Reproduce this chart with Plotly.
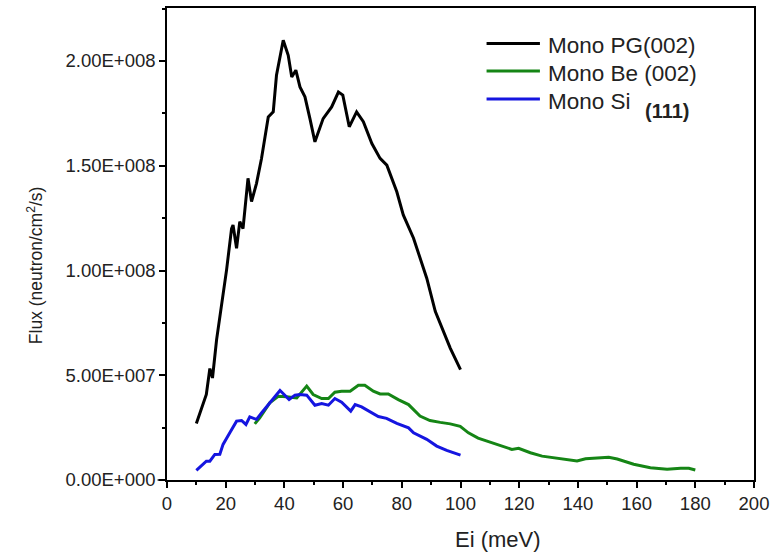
import plotly.graph_objects as go

# ---- data ----
pg_x = [10, 13.4, 14.6, 15.5, 16.9, 18.6, 19.7, 20.3, 22, 22.5, 23.7, 24.8, 25.9, 27.6, 28.8,
        30.5, 32.2, 34.5, 36.2, 37.3, 39.6, 41.3, 42.5, 43.9, 45.3, 47, 48.7, 50.4, 53.2,
        56.1, 58.4, 59.9, 62.1, 64.6, 66.9, 69.8, 72.6, 74.9, 78.3, 80.5, 84, 88.5, 91.4,
        96.5, 100]
pg_y = [2.70, 4.08, 5.32, 4.87, 6.7, 8.37, 9.48, 10.03, 12.0, 12.17, 11.06, 12.33, 12.0,
        14.4, 13.29, 14.16, 15.35, 17.33, 17.57, 19.32, 20.99, 20.27, 19.24, 19.56, 18.76,
        18.29, 17.25, 16.14, 17.25, 17.81, 18.52, 18.37, 16.86, 17.57, 17.1, 16.06, 15.35,
        15.03, 13.76, 12.65, 11.54, 9.63, 8.05, 6.3, 5.27]

be_x = [29.9, 31.6, 35, 37.9, 40.7, 44.2, 47.6, 49.8, 52.7, 55, 57.2, 59.5, 62.4, 65.2,
        67.4, 70.3, 72.6, 75.4, 78.8, 82.3, 86.2, 89.6, 93.1, 96.5, 99.9, 102.7, 106, 109,
        113.5, 117.5, 119.8, 123.8, 127.8, 132.9, 139.7, 142.6, 146.5, 150.5, 153.4, 159,
        164.7, 170.4, 175, 177.8, 180]
be_y = [2.68, 2.97, 3.68, 4.0, 3.97, 3.92, 4.48, 4.08, 3.89, 3.89, 4.19, 4.24, 4.24, 4.52,
        4.52, 4.24, 4.11, 4.11, 3.84, 3.6, 3.05, 2.84, 2.75, 2.68, 2.56, 2.25, 2.0, 1.86,
        1.62, 1.46, 1.51, 1.3, 1.14, 1.03, 0.905, 1.01, 1.03, 1.08, 1.0, 0.75, 0.59, 0.51,
        0.56, 0.56, 0.48]

si_x = [10, 11.7, 13.4, 14.6, 16.3, 18, 19.1, 21.4, 23.7, 25.4, 26.9, 28.2, 30.5, 32.2, 35,
        36.7, 38.5, 39.9, 41.6, 43.6, 45.3, 47.6, 50.4, 52.7, 55, 57.2, 59.5, 62.6, 64.1,
        66.3, 69.2, 72, 74.8, 78.3, 82.3, 84, 88.5, 91.9, 95.3, 100]
si_y = [0.46, 0.67, 0.90, 0.90, 1.22, 1.23, 1.70, 2.25, 2.81, 2.84, 2.65, 3.01, 2.89, 3.20,
        3.68, 3.92, 4.27, 4.08, 3.84, 4.05, 4.08, 4.05, 3.57, 3.65, 3.57, 3.89, 3.71, 3.29,
        3.60, 3.49, 3.25, 3.03, 2.94, 2.70, 2.49, 2.25, 1.94, 1.62, 1.41, 1.19]

scale = 1e7  # series values above are in units of 1e7 neutron/cm^2/s

series_names = ["Mono PG(002)", "Mono Be (002)", "Mono Si"]
series_colors = ["#000000", "#158515", "#1515e0"]

y_tickvals = [0, 5e7, 1e8, 1.5e8, 2e8]
y_ticktext = ["0.00E+000", "5.00E+007", "1.00E+008", "1.50E+008", "2.00E+008"]

FONT = "Arial"
TXT = "#222222"

fig = go.Figure()
for xs, ys, name, col in [(pg_x, pg_y, series_names[0], series_colors[0]),
                          (be_x, be_y, series_names[1], series_colors[1]),
                          (si_x, si_y, series_names[2], series_colors[2])]:
    fig.add_trace(go.Scatter(x=xs, y=[v * scale for v in ys], mode="lines", name=name,
                             line=dict(color=col, width=3), showlegend=False))

fig.update_layout(
    width=776, height=555,
    margin=dict(l=167, r=22, t=6, b=75),
    paper_bgcolor="white", plot_bgcolor="white",
    font=dict(family=FONT, color=TXT, size=18),
    xaxis=dict(
        range=[0, 200], tickmode="linear", tick0=0, dtick=20,
        ticks="outside", ticklen=6, tickwidth=1.5, tickcolor="black",
        showline=True, linecolor="black", linewidth=1.5, mirror=True,
        showgrid=False, zeroline=False,
        tickfont=dict(size=18.5, family=FONT, color=TXT),
        minor=dict(tickmode="linear", tick0=0, dtick=10, ticks="outside", ticklen=3,
                   tickwidth=1.5, tickcolor="black", showgrid=False),
    ),
    yaxis=dict(
        range=[0, 2.253e8], tickmode="array", tickvals=y_tickvals, ticktext=y_ticktext,
        ticks="outside", ticklen=6, tickwidth=1.5, tickcolor="black",
        showline=True, linecolor="black", linewidth=1.5, mirror=True,
        showgrid=False, zeroline=False,
        tickfont=dict(size=18.5, family=FONT, color=TXT),
        minor=dict(tickmode="linear", tick0=0, dtick=2.5e7, ticks="outside", ticklen=3,
                   tickwidth=1.5, tickcolor="black", showgrid=False),
    ),
)

# small extension of the x-axis line to the left of the y-axis (as in the reference)
fig.add_shape(type="line", xref="paper", yref="paper", x0=-0.016, x1=0, y0=0, y1=0,
              line=dict(color="black", width=1.5))

# axis titles
fig.add_annotation(text="Ei (meV)", xref="paper", yref="paper", x=0.5635, y=-0.125,
                   xanchor="center", yanchor="middle", showarrow=False,
                   font=dict(size=22, family=FONT, color=TXT))
fig.add_annotation(text="Flux (neutron/cm<sup>2</sup>/s)", xref="paper", yref="paper",
                   x=-0.225, y=0.455, textangle=-90, xanchor="center", yanchor="middle",
                   showarrow=False, font=dict(size=17.5, family=FONT, color=TXT))

# legend (drawn manually to match the long sample lines)
leg_line_y = [0.9247, 0.8665, 0.8074]
leg_text_y = [0.9198, 0.8618, 0.8027]
for i in range(3):
    fig.add_shape(type="line", xref="paper", yref="paper", x0=0.5444, x1=0.6353,
                  y0=leg_line_y[i], y1=leg_line_y[i],
                  line=dict(color=series_colors[i], width=3))
    fig.add_annotation(text=series_names[i], xref="paper", yref="paper", x=0.6455,
                       y=leg_text_y[i], xanchor="left", yanchor="middle", showarrow=False,
                       font=dict(size=22.5, family=FONT, color=TXT))
fig.add_annotation(text="<b>(111)</b>", xref="paper", yref="paper", x=0.8517, y=0.7827,
                   xanchor="center", yanchor="middle", showarrow=False,
                   font=dict(size=20, family=FONT, color=TXT))

fig.write_html("out.html")
